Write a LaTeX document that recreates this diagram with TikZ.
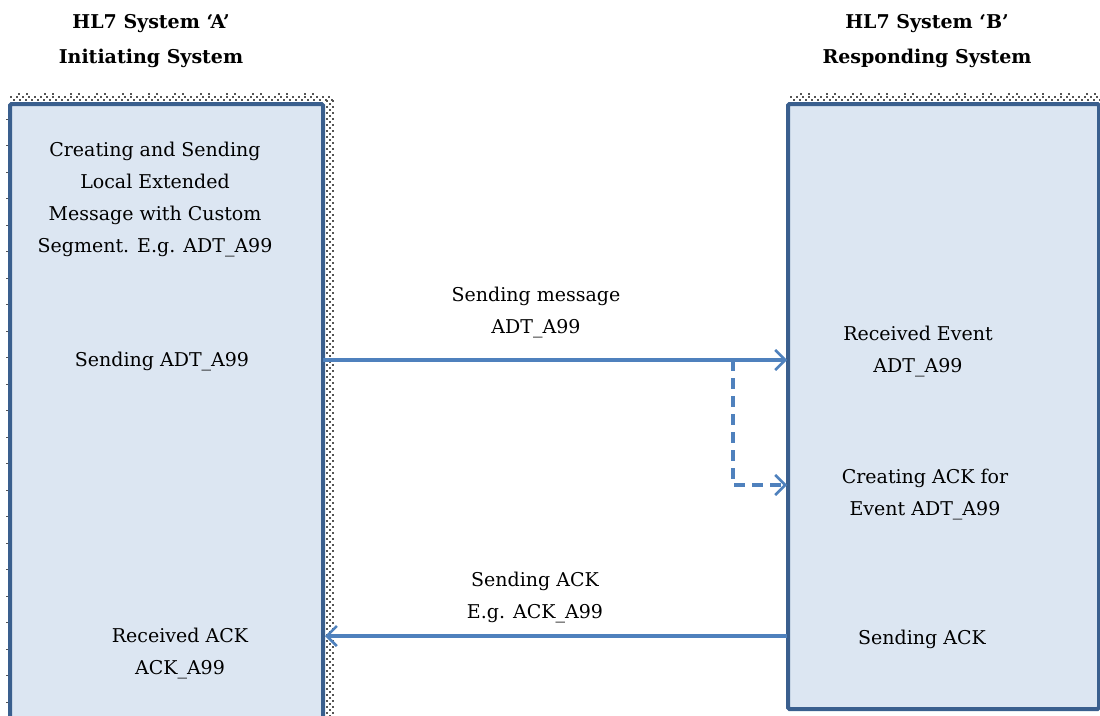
\documentclass[tikz,border=0pt]{standalone}
\usepackage{fontspec}
\setmainfont{DejaVu Serif}
\usetikzlibrary{arrows.meta}
\definecolor{boxfill}{HTML}{DCE6F2}
\definecolor{boxline}{HTML}{3A5F8E}
\definecolor{flow}{HTML}{4F81BD}
\definecolor{dotc}{HTML}{555555}
\tikzset{
  sysbox/.style={draw=boxline, fill=boxfill, line width=4pt, rounded corners=1.5pt},
  txt/.style={align=center, font=\fontsize{19}{32}\selectfont, inner sep=0pt},
  ttl/.style={align=center, font=\fontsize{19}{35}\selectfont\bfseries, inner sep=0pt},
  flowline/.style={draw=flow, line width=3.2pt, -{Straight Barb[length=10pt,width=20pt,line width=2.6pt]}},
  flowdash/.style={flowline, dash pattern=on 11pt off 7pt},
  dot/.style={fill=dotc}
}
\begin{document}
\begin{tikzpicture}[x=1pt,y=-1pt]
\useasboundingbox (0,0) rectangle (1100,715);
% dotted shading along the top edges
\foreach \x in {10,16,...,328} {
  \fill[dot] (\x,96) rectangle ++(1.6,1.6);
  \fill[dot] (\x+3,99) rectangle ++(1.6,1.6);
}
\foreach \x in {790,796,...,1100} {
  \fill[dot] (\x,96) rectangle ++(1.6,1.6);
  \fill[dot] (\x+3,99) rectangle ++(1.6,1.6);
}
\foreach \x in {18,44,...,320} {
  \fill[dot] (\x,93) rectangle ++(1.6,1.6);
  \fill[dot] (\x+8,93) rectangle ++(1.6,1.6);
}
\foreach \x in {800,826,...,1100} {
  \fill[dot] (\x,93) rectangle ++(1.6,1.6);
  \fill[dot] (\x+8,93) rectangle ++(1.6,1.6);
}
% dotted shading along the right edge of system A
\foreach \y in {100,106,...,715} {
  \fill[dot] (326,\y) rectangle ++(1.6,1.6);
  \fill[dot] (332,\y) rectangle ++(1.6,1.6);
  \fill[dot] (329,\y+3) rectangle ++(1.6,1.6);
}
% tick marks along the left edge of system A
\foreach \y in {119,145.5,...,715} \draw[dotc, line width=1pt] (6,\y) -- (9,\y);
% the two systems
\draw[sysbox] (10,104) rectangle (323,740);
\draw[sysbox] (788,104) rectangle (1099,709);
\node[ttl] (titleA) at (151,41) {HL7 System ‘A’\\Initiating System};
\node[ttl] (titleB) at (927,41) {HL7 System ‘B’\\Responding System};
% labels inside system A
\node[txt] (create) at (155,200) {Creating and Sending\\Local Extended\\Message with Custom\\Segment. E.g. ADT\_A99};
\node[txt] (sendA) at (162,362) {Sending ADT\_A99};
\node[txt] (recvA) at (180,654) {Received ACK\\ACK\_A99};
% labels inside system B
\node[txt] (recvB) at (918,352) {Received Event\\ADT\_A99};
\node[txt] (ackB) at (925,495) {Creating ACK for\\Event ADT\_A99};
\node[txt] (sendB) at (922,639) {Sending ACK};
% message labels
\node[txt] (msgLbl) at (536,313) {Sending message\\ADT\_A99};
\node[txt] (ackLbl) at (535,598) {Sending ACK\\E.g. ACK\_A99};
% connectors
\coordinate (outA) at (323,360);
\coordinate (inB) at (787,360);
\coordinate (split) at (733,360);
\coordinate (turn) at (733,485);
\coordinate (ackIn) at (787,485);
\coordinate (outB) at (787,636);
\coordinate (inA) at (325,636);
\draw[flowline] (outA) -- (inB);
\draw[flowdash] (split) -- (turn) -- (ackIn);
\draw[flowline] (outB) -- (inA);
\end{tikzpicture}
\end{document}
